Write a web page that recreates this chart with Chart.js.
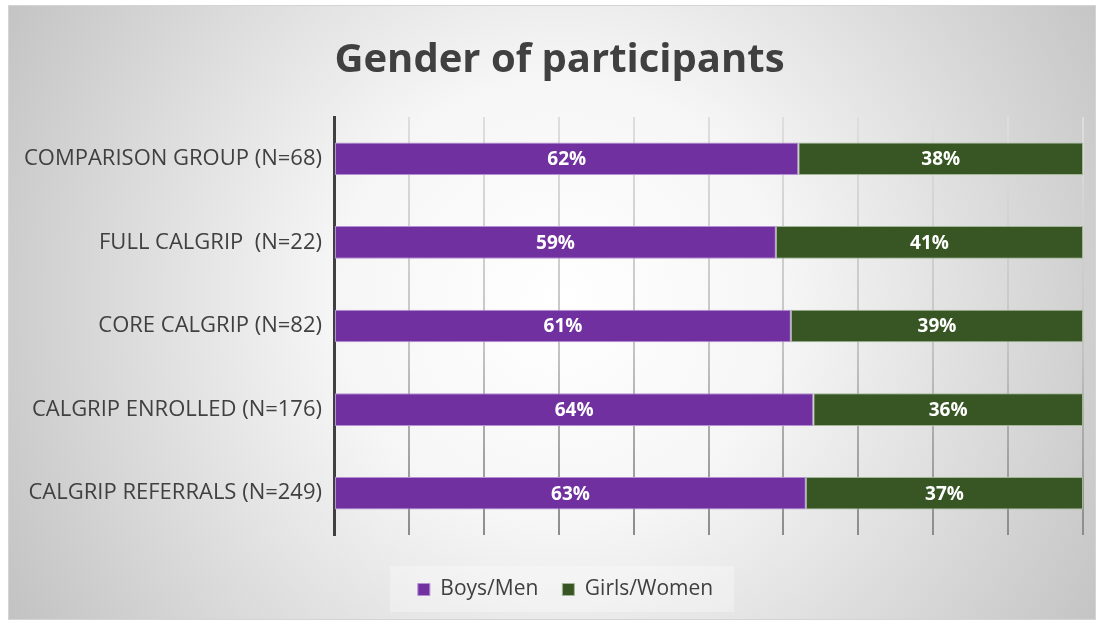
<!DOCTYPE html>
<html>
<head>
<meta charset="utf-8">
<script src="https://cdn.jsdelivr.net/npm/chart.js@4"></script>
<style>
  html, body { margin: 0; padding: 0; background: #ffffff; }
  #wrap { width: 1103px; height: 624px; position: relative; }
</style>
</head>
<body>
<div id="wrap"><canvas id="c" width="1103" height="624"></canvas></div>
<script>
const categories = [
  'COMPARISON GROUP (N=68)',
  'FULL CALGRIP  (N=22)',
  'CORE CALGRIP (N=82)',
  'CALGRIP ENROLLED (N=176)',
  'CALGRIP REFERRALS (N=249)'
];
const boysMen = [62, 59, 61, 64, 63];
const girlsWomen = [38, 41, 39, 36, 37];
const seriesNames = ['Boys/Men', 'Girls/Women'];
const titleText = 'Gender of participants';

const FONT = "'Open Sans', 'Liberation Sans', sans-serif";

const bgPlugin = {
  id: 'bgPlugin',
  afterLayout(chart) {
    const lg = chart.legend;
    if (lg) {
      lg.left += 20; lg.right += 20;
      lg.top -= 14; lg.bottom -= 14;
    }
    const tb = chart.titleBlock;
    if (tb) { tb.left += 14; tb.right += 14; }
  },
  beforeDraw(chart) {
    const ctx = chart.ctx;
    ctx.save();
    ctx.fillStyle = '#ffffff';
    ctx.fillRect(0, 0, chart.width, chart.height);
    const x0 = 8, y0 = 5, w = 1088, h = 615;
    const g = ctx.createRadialGradient(560, 300, 0, 560, 300, 640);
    g.addColorStop(0, '#ffffff');
    g.addColorStop(0.35, '#f6f6f6');
    g.addColorStop(1, '#c2c2c2');
    ctx.fillStyle = g;
    ctx.fillRect(x0, y0, w, h);
    ctx.strokeStyle = '#d4d4d4';
    ctx.lineWidth = 1;
    ctx.strokeRect(x0 + 0.5, y0 + 0.5, w - 1, h - 1);
    // legend backdrop
    ctx.fillStyle = 'rgba(255,255,255,0.3)';
    ctx.fillRect(390, 566, 344, 46);
    // gradient gridlines
    const ca = chart.chartArea;
    const gg = ctx.createLinearGradient(0, ca.top, 0, ca.bottom);
    gg.addColorStop(0, '#dedede');
    gg.addColorStop(0.55, '#c4c4c4');
    gg.addColorStop(1, '#8c8c8c');
    chart.options.scales.x.grid.color = gg;
    chart.scales.x.options.grid.color = gg;
    ctx.restore();
  }
};

const labelPlugin = {
  id: 'labelPlugin',
  afterDatasetsDraw(chart) {
    const ctx = chart.ctx;
    ctx.save();
    ctx.fillStyle = '#ffffff';
    ctx.font = 'bold 19px ' + FONT;
    ctx.textAlign = 'center';
    ctx.textBaseline = 'middle';
    chart.data.datasets.forEach((ds, di) => {
      const meta = chart.getDatasetMeta(di);
      meta.data.forEach((bar, i) => {
        const p = bar.getProps(['x', 'y', 'base'], true);
        const cx = (p.x + p.base) / 2;
        ctx.fillText(ds.data[i] + '%', cx, p.y + 1);
      });
    });
    ctx.restore();
  }
};

new Chart(document.getElementById('c'), {
  type: 'bar',
  data: {
    labels: categories,
    datasets: [
      {
        label: seriesNames[0],
        data: boysMen,
        backgroundColor: '#7030a0',
        borderColor: '#b58fd3',
        borderWidth: 1,
        borderSkipped: false,
        barPercentage: 0.39,
        categoryPercentage: 1.0
      },
      {
        label: seriesNames[1],
        data: girlsWomen,
        backgroundColor: '#375623',
        borderColor: '#a2b797',
        borderWidth: 1,
        borderSkipped: false,
        barPercentage: 0.39,
        categoryPercentage: 1.0
      }
    ]
  },
  options: {
    indexAxis: 'y',
    responsive: false,
    animation: false,
    devicePixelRatio: 1,
    layout: { padding: { left: 8, right: 20, top: 0, bottom: 0 } },
    scales: {
      x: {
        stacked: true,
        min: 0,
        max: 100,
        ticks: { display: false, stepSize: 10 },
        grid: { color: '#d0d0d0', lineWidth: 2, drawTicks: false },
        border: { display: false },
        afterFit(scale) { scale.height = 34; }
      },
      y: {
        stacked: true,
        grid: { display: false, drawTicks: false },
        border: { display: true, color: '#404040', width: 3 },
        ticks: {
          color: '#404040',
          font: { family: FONT, size: 22 },
          padding: 12
        },
        afterFit(scale) { scale.width = 326; }
      }
    },
    plugins: {
      title: {
        display: true,
        text: titleText,
        color: '#404040',
        font: { family: FONT, size: 40, weight: 'bold' },
        padding: { top: 37, bottom: 32 }
      },
      legend: {
        position: 'bottom',
        labels: {
          color: '#404040',
          font: { family: FONT, size: 21 },
          boxWidth: 12,
          boxHeight: 12,
          padding: 24
        }
      },
      tooltip: { enabled: false }
    }
  },
  plugins: [bgPlugin, labelPlugin]
});
</script>
</body>
</html>
